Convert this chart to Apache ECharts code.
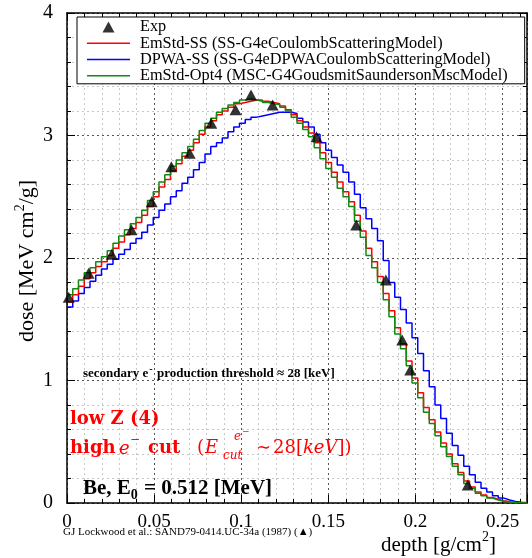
<!DOCTYPE html>
<html>
<head>
<meta charset="utf-8">
<script src="https://cdn.jsdelivr.net/npm/echarts@6/dist/echarts.min.js"></script>
<style>
  html, body { margin: 0; padding: 0; background: #fff; }
  #chart { width: 532px; height: 558px; }
</style>
</head>
<body>
<div id="chart"></div>
<script>
// histogram bin width in g/cm2 (80 bins from 0)
const binWidth = 0.0033;

// EmStd-SS (red)
const emStdSS = [
  1.64, 1.70, 1.77, 1.83, 1.88, 1.93, 1.97, 2.02, 2.08, 2.13,
  2.19, 2.24, 2.29, 2.35, 2.42, 2.50, 2.58, 2.64, 2.71, 2.77,
  2.83, 2.88, 2.94, 3.01, 3.07, 3.12, 3.17, 3.20, 3.23, 3.26,
  3.27, 3.28, 3.29, 3.28, 3.28, 3.27, 3.26, 3.24, 3.21, 3.17,
  3.12, 3.07, 3.02, 2.94, 2.86, 2.78, 2.70, 2.62, 2.54, 2.46,
  2.35, 2.22, 2.08, 1.97, 1.85, 1.71, 1.57, 1.43, 1.30, 1.16,
  1.02, 0.90, 0.78, 0.68, 0.58, 0.49, 0.40, 0.32, 0.25, 0.18,
  0.13, 0.09, 0.065, 0.045, 0.03, 0.018, 0.01, 0.005, 0.003, 0.001
];

// DPWA-SS (blue)
const dpwaSS = [
  1.60, 1.65, 1.71, 1.76, 1.81, 1.86, 1.91, 1.95, 1.99, 2.03,
  2.07, 2.12, 2.16, 2.21, 2.27, 2.33, 2.39, 2.44, 2.50, 2.55,
  2.61, 2.66, 2.72, 2.78, 2.85, 2.91, 2.94, 2.98, 3.03, 3.07,
  3.10, 3.13, 3.15, 3.16, 3.17, 3.18, 3.19, 3.19, 3.19, 3.18,
  3.14, 3.11, 3.07, 3.01, 2.94, 2.88, 2.82, 2.76, 2.70, 2.62,
  2.52, 2.41, 2.32, 2.24, 2.14, 1.98, 1.80, 1.68, 1.58, 1.47,
  1.35, 1.22, 1.08, 0.95, 0.80, 0.69, 0.57, 0.47, 0.39, 0.30,
  0.23, 0.17, 0.12, 0.09, 0.06, 0.04, 0.025, 0.013, 0.006, 0.002
];

// EmStd-Opt4 (green)
const emStdOpt4 = [
  1.70, 1.75, 1.82, 1.88, 1.92, 1.97, 2.01, 2.06, 2.12, 2.18,
  2.23, 2.28, 2.33, 2.39, 2.47, 2.54, 2.62, 2.68, 2.75, 2.80,
  2.86, 2.91, 2.97, 3.04, 3.10, 3.14, 3.19, 3.22, 3.25, 3.27,
  3.29, 3.30, 3.29, 3.29, 3.27, 3.26, 3.25, 3.23, 3.20, 3.15,
  3.10, 3.05, 2.99, 2.90, 2.81, 2.73, 2.66, 2.57, 2.50, 2.42,
  2.30, 2.17, 2.02, 1.92, 1.80, 1.66, 1.52, 1.38, 1.26, 1.12,
  0.98, 0.86, 0.74, 0.65, 0.55, 0.46, 0.38, 0.30, 0.23, 0.16,
  0.12, 0.08, 0.06, 0.04, 0.025, 0.015, 0.008, 0.004, 0.002, 0.001
];

// Lockwood measurements
const expDepth = [0.001, 0.0124, 0.0257, 0.037, 0.0486, 0.0599, 0.0704, 0.0828, 0.0967,
  0.1056, 0.118, 0.1432, 0.166, 0.183, 0.1924, 0.197, 0.230];
const expDose = [1.68, 1.875, 2.03, 2.23, 2.46, 2.745, 2.855, 3.10, 3.21,
  3.33, 3.25, 2.99, 2.27, 1.82, 1.33, 1.085, 0.147];

const seriesNames = [
  'Exp',
  'EmStd-SS (SS-G4eCoulombScatteringModel)',
  'DPWA-SS (SS-G4eDPWACoulombScatteringModel)',
  'EmStd-Opt4 (MSC-G4GoudsmitSaundersonMscModel)'
];

const serif = '"Liberation Serif", "Times New Roman", serif';
const latex = '"DejaVu Serif", serif';
const red = '#ff0000';

const lineIcon = 'path://M0,0h86v3h-86z';
const triIcon = 'path://M6,0L12,11L0,11z';

function histogram(values) {
  const pts = values.map((v, i) => [i * binWidth, v]);
  pts.push([values.length * binWidth, values[values.length - 1]]);
  return pts;
}

function histLine(name, values, color, z) {
  return {
    name: name,
    type: 'line',
    step: 'end',
    data: histogram(values),
    symbol: 'none',
    color: color,
    lineStyle: { color: color, width: 1.5 },
    z: z
  };
}

function label(x, y, text, font) {
  return {
    type: 'text', x: x, y: y, z: 20,
    style: Object.assign({ text: text, align: 'left', verticalAlign: 'middle' }, font)
  };
}

const axisBase = {
  type: 'value',
  axisLine: { show: true, onZero: false, lineStyle: { color: '#000', width: 1.5 } },
  axisTick: { show: true, inside: true, length: 8, lineStyle: { color: '#000' } },
  minorTick: { show: true, splitNumber: 5, length: 4, lineStyle: { color: '#000' } }
};

const chart = echarts.init(document.getElementById('chart'));

chart.setOption({
  backgroundColor: '#fff',
  animation: false,
  grid: { left: 67, right: 5, top: 13, bottom: 55 },
  xAxis: [
    Object.assign({}, axisBase, {
      min: 0, max: 0.264, interval: 0.05, position: 'bottom',
      axisLabel: { color: '#000', fontFamily: serif, fontSize: 19, margin: 10, showMaxLabel: false },
      splitLine: { show: true, lineStyle: { color: '#555', type: [2, 3], width: 1 } },
      minorSplitLine: { show: true, lineStyle: { color: '#c8c8c8', type: [2, 3], width: 1 } }
    }),
    Object.assign({}, axisBase, {
      min: 0, max: 0.264, interval: 0.05, position: 'top',
      axisLabel: { show: false },
      splitLine: { show: false }
    })
  ],
  yAxis: [
    Object.assign({}, axisBase, {
      min: 0, max: 4, interval: 1, position: 'left',
      axisLabel: { color: '#000', fontFamily: serif, fontSize: 20, margin: 14 },
      splitLine: { show: true, lineStyle: { color: '#555', type: [2, 3], width: 1 } },
      minorSplitLine: { show: true, lineStyle: { color: '#c8c8c8', type: [2, 3], width: 1 } }
    }),
    Object.assign({}, axisBase, {
      min: 0, max: 4, interval: 1, position: 'right',
      axisLabel: { show: false },
      splitLine: { show: false }
    })
  ],
  legend: {
    left: 77,
    top: 17,
    orient: 'vertical',
    backgroundColor: '#fff',
    borderColor: '#000',
    borderWidth: 1,
    borderRadius: 0,
    padding: [2, 17, 0, 10],
    itemWidth: 43,
    itemHeight: 11,
    itemGap: 0,
    symbolKeepAspect: true,
    textStyle: { color: '#000', fontFamily: serif, fontSize: 16.3, lineHeight: 16.2, padding: [0, 0, 0, 5] },
    data: [
      { name: seriesNames[0], icon: triIcon },
      { name: seriesNames[1], icon: lineIcon },
      { name: seriesNames[2], icon: lineIcon },
      { name: seriesNames[3], icon: lineIcon }
    ]
  },
  series: [
    {
      name: seriesNames[0],
      type: 'scatter',
      symbol: 'triangle',
      symbolSize: [12, 11],
      itemStyle: { color: '#000' },
      data: expDepth.map((d, i) => [d, expDose[i]]),
      z: 10
    },
    histLine(seriesNames[2], dpwaSS, '#0000ff', 3),
    histLine(seriesNames[1], emStdSS, red, 4),
    histLine(seriesNames[3], emStdOpt4, '#128a12', 5)
  ],
  graphic: [
    {
      type: 'text', x: 26, y: 261, rotation: Math.PI / 2,
      style: {
        text: '{t|dose [MeV cm}{s|2}{t|/g]}',
        align: 'center', verticalAlign: 'middle',
        rich: {
          t: { fontFamily: serif, fontSize: 22, fill: '#000', verticalAlign: 'bottom' },
          s: { fontFamily: serif, fontSize: 14, fill: '#000', verticalAlign: 'bottom', padding: [0, 0, 11, 0] }
        }
      }
    },
    {
      type: 'text', x: 381, y: 543,
      style: {
        text: '{t|depth [g/cm}{s|2}{t|]}',
        align: 'left', verticalAlign: 'middle',
        rich: {
          t: { fontFamily: serif, fontSize: 21, fill: '#000', verticalAlign: 'bottom' },
          s: { fontFamily: serif, fontSize: 14, fill: '#000', verticalAlign: 'bottom', padding: [0, 0, 11, 0] }
        }
      }
    },
    label(63, 532, 'GJ Lockwood et al.: SAND79-0414.UC-34a (1987) (\u25B2)',
      { fontFamily: serif, fontSize: 11, fill: '#000' }),
    {
      type: 'text', x: 83, y: 372, z: 20,
      style: {
        text: '{t|secondary e}{s|-}{t| production threshold \u2248 28 [keV]}',
        align: 'left', verticalAlign: 'middle',
        rich: {
          t: { fontFamily: serif, fontSize: 13, fontWeight: 'bold', fill: '#000', verticalAlign: 'bottom' },
          s: { fontFamily: serif, fontSize: 10, fontWeight: 'bold', fill: '#000', verticalAlign: 'bottom', padding: [0, 1, 6, 1] }
        }
      }
    },
    label(70, 419, 'low Z (4)', { fontFamily: latex, fontSize: 18, fontWeight: 'bold', fill: red }),
    label(70, 448, 'high', { fontFamily: latex, fontSize: 18, fontWeight: 'bold', fill: red }),
    label(119, 449, 'e', { fontFamily: latex, fontSize: 18, fontStyle: 'italic', fill: red }),
    label(130, 440, '\u2212', { fontFamily: latex, fontSize: 12, fill: red }),
    label(148, 448, 'cut', { fontFamily: latex, fontSize: 18, fontWeight: 'bold', fill: red }),
    label(197, 448, '(', { fontFamily: latex, fontSize: 18, fill: red }),
    label(205, 448, 'E', { fontFamily: latex, fontSize: 18, fontStyle: 'italic', fill: red }),
    label(234, 437, 'e', { fontFamily: latex, fontSize: 12, fontStyle: 'italic', fill: red }),
    label(242, 432, '\u2212', { fontFamily: latex, fontSize: 9, fill: red }),
    label(223, 456, 'cut', { fontFamily: latex, fontSize: 12, fontStyle: 'italic', fill: red }),
    label(256, 448, '\u223C', { fontFamily: latex, fontSize: 18, fill: red }),
    {
      type: 'text', x: 273, y: 448, z: 20,
      style: {
        text: '{n|28[}{i|keV}{n|])}',
        align: 'left', verticalAlign: 'middle',
        rich: {
          i: { fontFamily: latex, fontSize: 18, fontStyle: 'italic', fill: red },
          n: { fontFamily: latex, fontSize: 18, fill: red }
        }
      }
    },
    {
      type: 'text', x: 83, y: 490, z: 20,
      style: {
        text: '{t|Be, E}{s|0}{t| = 0.512 [MeV]}',
        align: 'left', verticalAlign: 'middle',
        rich: {
          t: { fontFamily: serif, fontSize: 21, fontWeight: 'bold', fill: '#000', verticalAlign: 'bottom', padding: [0, 0, 3, 0] },
          s: { fontFamily: serif, fontSize: 14, fontWeight: 'bold', fill: '#000', verticalAlign: 'bottom', padding: [0, 1, 0, 0] }
        }
      }
    }
  ]
});
</script>
</body>
</html>
